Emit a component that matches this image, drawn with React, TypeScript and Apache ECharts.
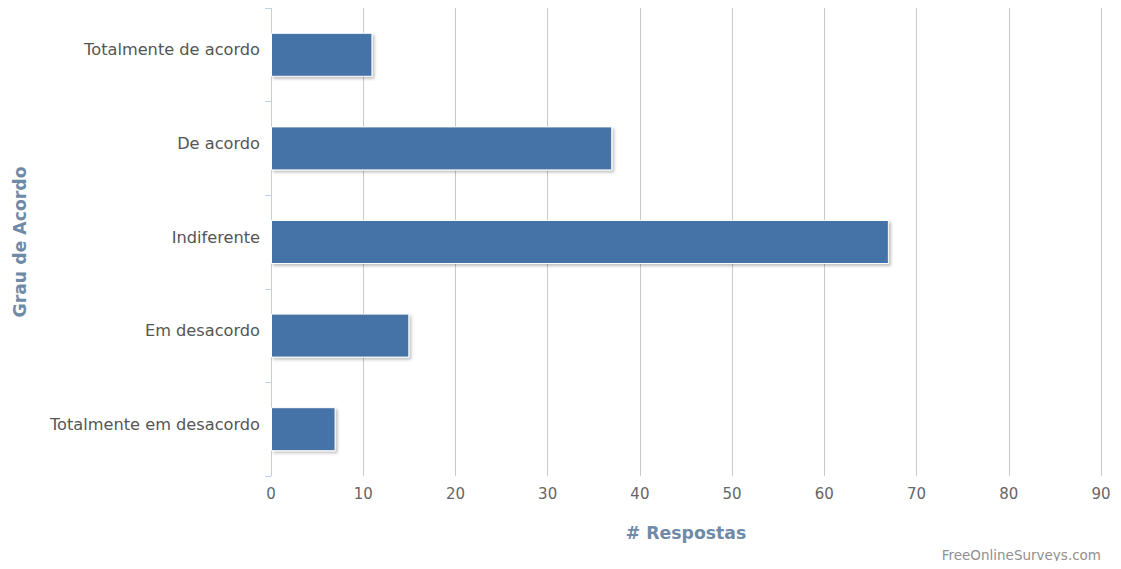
import React, { useEffect, useRef } from "react";
import * as echarts from "echarts";

const categories = [
  "Totalmente em desacordo",
  "Em desacordo",
  "Indiferente",
  "De acordo",
  "Totalmente de acordo",
];
const values = [7, 15, 67, 37, 11];
const xTicks = { min: 0, max: 90, interval: 10 };

const FONT = "'DejaVu Sans', sans-serif";

export default function App() {
  const ref = useRef<HTMLDivElement>(null);
  useEffect(() => {
    if (!ref.current) return;
    const chart = echarts.init(ref.current, undefined, { renderer: "svg" });
    chart.setOption({
      animation: false,
      grid: { left: 271, right: 20, top: 8, bottom: 93, containLabel: false },
      xAxis: {
        type: "value",
        min: xTicks.min,
        max: xTicks.max,
        interval: xTicks.interval,
        name: "# Respostas",
        nameLocation: "middle",
        nameGap: 48,
        nameTextStyle: { color: "#6f8aa6", fontWeight: "bold", fontSize: 17.3, fontFamily: FONT },
        axisLine: { show: false },
        axisTick: { show: false },
        axisLabel: { color: "#666666", fontSize: 15, fontFamily: FONT, margin: 10 },
        splitLine: { show: true, lineStyle: { color: "#c8c8c8", width: 1 } },
      },
      yAxis: {
        type: "category",
        data: categories,
        name: "Grau de Acordo",
        nameLocation: "middle",
        nameGap: 243,
        nameRotate: 90,
        nameTextStyle: { color: "#6f8aa6", fontWeight: "bold", fontSize: 17.3, fontFamily: FONT },
        axisLine: { show: true, lineStyle: { color: "#c0d0e0", width: 1 } },
        axisTick: { show: true, length: 6, lineStyle: { color: "#c0d0e0" } },
        axisLabel: {
          color: "#555555",
          fontSize: 16.2,
          fontFamily: FONT,
          margin: 11,
          verticalAlign: "bottom",
          lineHeight: 10,
        },
        splitLine: { show: false },
      },
      series: [
        {
          type: "bar",
          data: values,
          barWidth: 44,
          itemStyle: {
            color: "#4572a7",
            borderColor: "#ffffff",
            borderWidth: 1,
            shadowColor: "rgba(0,0,0,0.25)",
            shadowBlur: 3,
            shadowOffsetX: 2,
            shadowOffsetY: 2,
          },
        },
      ],
      graphic: [
        {
          type: "text",
          right: 20,
          top: 548,
          style: { text: "FreeOnlineSurveys.com", fill: "#909090", fontSize: 13.5, fontFamily: FONT },
        },
      ],
    });
    return () => chart.dispose();
  }, []);
  return <div ref={ref} style={{ width: 1121, height: 569, margin: -8 }} />;
}
